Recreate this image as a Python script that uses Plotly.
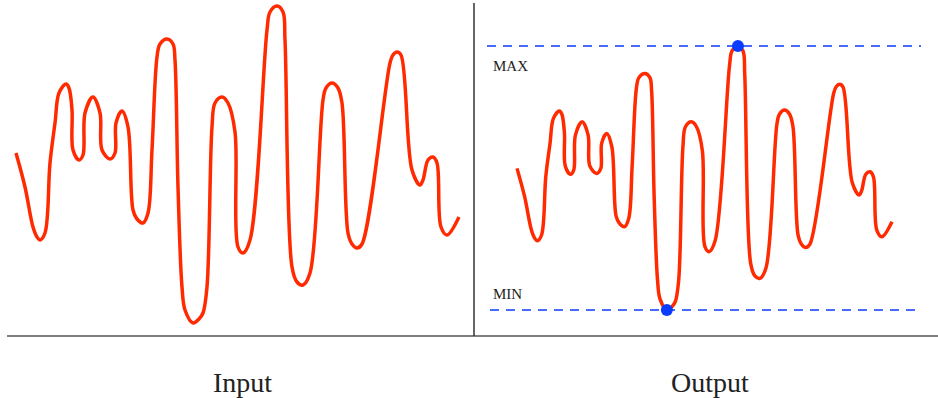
import plotly.graph_objects as go

# Signal samples (time, value)
time = [0, 9, 17, 21, 24, 29, 34, 39, 43, 50, 53, 56, 57, 63, 67, 69, 77, 84, 86, 94,
        99, 100, 106, 112, 117, 121, 127, 132, 136, 141, 144, 151, 157, 159, 162, 166,
        169, 177, 183, 187, 191, 196, 199, 206, 212, 219, 222, 227, 234, 251, 254, 261,
        267, 269, 276, 281, 287, 294, 307, 310, 316, 322, 326, 332, 336, 341, 346, 374,
        377, 381, 385, 396, 404, 407, 412, 417, 421, 425, 431, 443]
value = [170, 136, 96, 86, 83, 90, 160, 200, 230, 239, 235, 213, 173, 163, 168, 210, 226, 210, 173, 164,
         170, 200, 212, 196, 113, 104, 100, 110, 173, 266, 279, 284, 279, 263, 136, 36,
         13, 0, 4, 10, 36, 196, 220, 226, 220, 191, 76, 70, 83, 293, 311, 317,
         311, 283, 56, 41, 38, 50, 223, 235, 240, 235, 220, 90, 79, 75, 79, 260,
         268, 271, 268, 153, 138, 143, 163, 166, 160, 96, 88, 106]

panel_titles = ["Input", "Output"]
extreme_labels = ["MAX", "MIN"]

RED = "#ff2a00"
BLUE = "#0a3cff"
W, H = 938, 398

vmin = min(value)
vmax = max(value)
tmin = time[value.index(vmin)]
tmax = time[value.index(vmax)]

fig = go.Figure()
line_style = dict(color=RED, width=3.5, shape="spline", smoothing=1.0)

fig.add_trace(go.Scatter(x=time, y=value, mode="lines", line=line_style,
                         xaxis="x", yaxis="y", hoverinfo="skip"))
fig.add_trace(go.Scatter(x=time, y=value, mode="lines", line=line_style,
                         xaxis="x2", yaxis="y2", hoverinfo="skip"))
fig.add_trace(go.Scatter(x=[tmin, tmax], y=[vmin, vmax], mode="markers",
                         marker=dict(color=BLUE, size=12),
                         xaxis="x2", yaxis="y2", hoverinfo="skip"))

split = 474 / W
hidden = dict(visible=False, showgrid=False, zeroline=False, fixedrange=True)

fig.update_layout(
    xaxis=dict(domain=[0, split], range=[-16, 458], **hidden),
    yaxis=dict(domain=[0, 1], range=[-75, 323], **hidden),
    xaxis2=dict(domain=[split, 1], range=[-50.8, 497.3], **hidden),
    yaxis2=dict(domain=[0, 1], range=[-105.7, 372.2], anchor="x2", **hidden),
)

shapes = []
# dashed MAX / MIN guides
for v, x0 in [(vmax, 487), (vmin, 490)]:
    shapes.append(dict(type="line", xref="paper", yref="y2",
                       x0=x0 / W, x1=921 / W, y0=v, y1=v,
                       line=dict(color=BLUE, width=1.5, dash="9px,7px"), layer="below"))
# baseline and divider
shapes.append(dict(type="line", xref="paper", yref="paper",
                   x0=7 / W, x1=1, y0=(H - 336) / H, y1=(H - 336) / H,
                   line=dict(color="#555555", width=1.5)))
shapes.append(dict(type="line", xref="paper", yref="paper",
                   x0=split, x1=split, y0=(H - 336) / H, y1=(H - 3) / H,
                   line=dict(color="#333333", width=1.5)))

title_font = dict(family="Liberation Serif", size=28, color="#222222")
label_font = dict(family="Liberation Serif", size=15, color="#222222")
annotations = [
    dict(text=panel_titles[0], xref="paper", yref="paper", x=242.5 / W, y=(H - 382) / H,
         xanchor="center", yanchor="middle", showarrow=False, font=title_font),
    dict(text=panel_titles[1], xref="paper", yref="paper", x=709.5 / W, y=(H - 382) / H,
         xanchor="center", yanchor="middle", showarrow=False, font=title_font),
    dict(text=extreme_labels[0], xref="paper", yref="y2", x=491 / W, y=vmax,
         xanchor="left", yanchor="middle", yshift=-20, showarrow=False, font=label_font),
    dict(text=extreme_labels[1], xref="paper", yref="y2", x=491 / W, y=vmin,
         xanchor="left", yanchor="middle", yshift=16, showarrow=False, font=label_font),
]

fig.update_layout(
    width=W, height=H,
    margin=dict(l=0, r=0, t=0, b=0),
    paper_bgcolor="white", plot_bgcolor="white",
    showlegend=False,
    shapes=shapes, annotations=annotations,
)

fig.write_html("out.html", config={"displayModeBar": False},
               post_script="document.body.style.margin='0';document.body.style.padding='0';")
